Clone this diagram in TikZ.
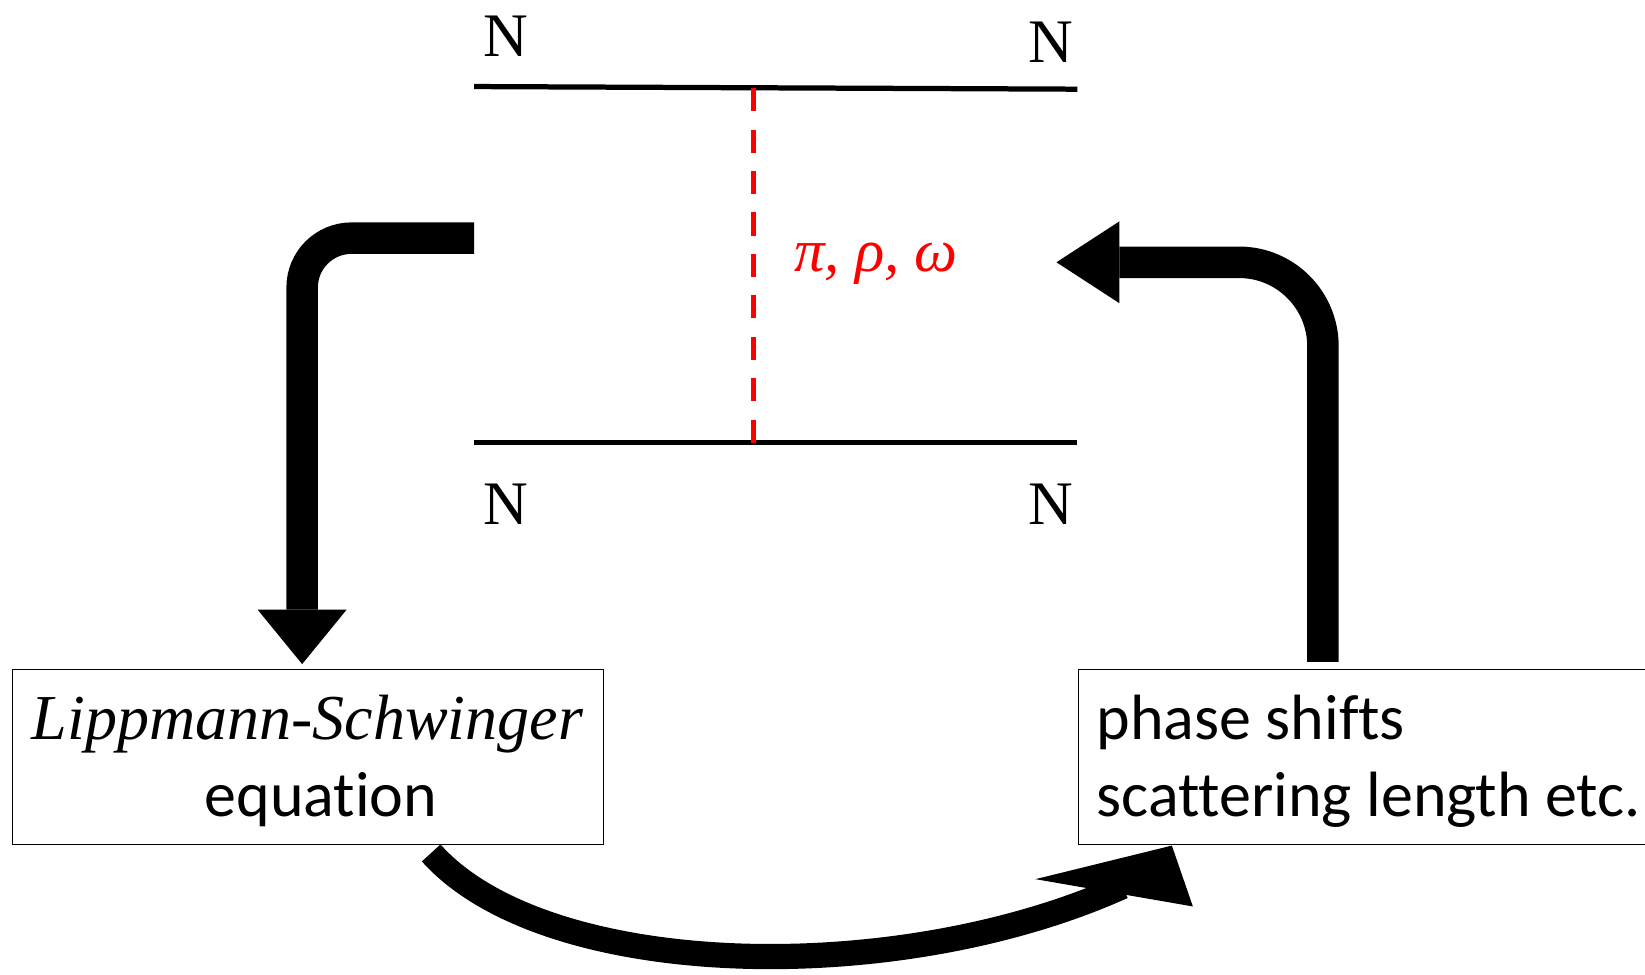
\documentclass[tikz,border=0pt]{standalone}
\usepackage{fontspec}
\setmainfont{Liberation Serif}[ItalicFont={Liberation Serif Italic}]
\newfontfamily\calib{Carlito}[Ligatures=NoCommon]
\usetikzlibrary{arrows.meta}
\begin{document}
\begin{tikzpicture}[x=1pt,y=-1pt,
  fat/.style={line width=30pt},
  nlab/.style={inner sep=0pt, anchor=base, font=\fontsize{59}{60}\selectfont},
  box/.style={draw, line width=1.3pt, inner sep=0pt},
  sans/.style={inner sep=0pt, font=\calib\fontsize{61}{72}\selectfont},
  serifit/.style={inner sep=0pt, font=\itshape\fontsize{61}{72}\selectfont},
  ]
\useasboundingbox (0,0) rectangle (1568,929);
\clip (0,0) rectangle (1568,929);

% exchange diagram
\node[nlab] (n1) at (482,54) {N};
\node[nlab] (n2) at (1002,60) {N};
\node[nlab] (n3) at (482,500) {N};
\node[nlab] (n4) at (1002,500) {N};
\coordinate (t1) at (452,82.5);
\coordinate (t2) at (1027,85);
\coordinate (b1) at (452,422);
\coordinate (b2) at (1027,422);
\coordinate (vt) at (718.5,84);
\coordinate (vb) at (718.5,422);
\draw[line width=5pt] (t1) -- (t2);
\draw[line width=5pt] (b1) -- (b2);
\draw[red, line width=4.5pt, dash pattern=on 22pt off 17.5pt] (vt) -- (vb);
\node[red, anchor=base, inner sep=0pt, font=\itshape\fontsize{58}{60}\selectfont] (mes) at (835,259) {π, ρ, ω};

% boxes
\node[box, minimum width=563pt, minimum height=167pt] (lsbox) at (293.5,721.5) {};
\node[box, minimum width=552pt, minimum height=167pt] (psbox) at (1304,721.5) {};
\node[serifit, anchor=base] (ls1) at (293,705) {Lippmann-Schwinger};
\node[sans, anchor=base] (ls2) at (306,778) {equation};
\node[sans, anchor=base west] (ps1) at (1045,705) {phase shifts};
\node[sans, anchor=base west] (ps2) at (1045,778) {scattering length etc.};

% left bent arrow
\coordinate (la) at (452,227);
\coordinate (lc) at (288,227);
\coordinate (lt) at (288,633);
\draw[fat, rounded corners=47pt, -{Triangle[width=85pt,length=52pt,line width=0pt]}] (la) -- (lc) -- (lt);

% right bent arrow
\coordinate (ra) at (1261,631);
\coordinate (rc) at (1261,250);
\coordinate (rt) at (1007,250);
\draw[fat, rounded corners=80pt, -{Triangle[width=78pt,length=60pt,line width=0pt]}] (ra) -- (rc) -- (rt);

% bottom curved arrow
\coordinate (ba) at (411,813);
\coordinate (bb) at (1070,845);
\draw[line width=24pt] (ba) .. controls (520,935) and (855,942) .. (bb);
\fill (987,838) -- (1117,806) -- (1137,864) -- cycle;
\end{tikzpicture}
\end{document}
